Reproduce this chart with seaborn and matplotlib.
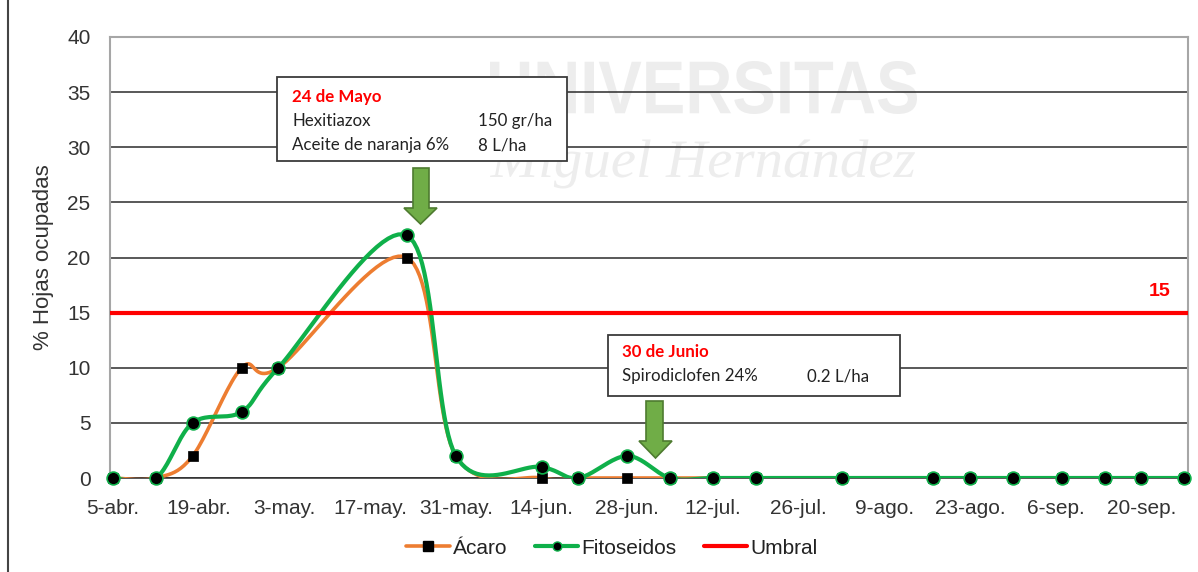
import numpy as np
import pandas as pd
import matplotlib.pyplot as plt
import seaborn as sns
from matplotlib.lines import Line2D
from matplotlib.patches import Rectangle, Polygon, PathPatch
from matplotlib.textpath import TextPath
from matplotlib.font_manager import FontProperties
from matplotlib.transforms import Affine2D

# --- Datos ---
fechas = ['2019-04-05', '2019-04-12', '2019-04-18', '2019-04-26', '2019-05-02',
          '2019-05-23', '2019-05-31', '2019-06-14', '2019-06-20', '2019-06-28',
          '2019-07-05', '2019-07-12', '2019-07-19', '2019-08-02', '2019-08-17',
          '2019-08-23', '2019-08-30', '2019-09-07', '2019-09-14', '2019-09-20',
          '2019-09-27']
acaro = [0, 0, 2, 10, 10, 20, 2, 0, 0, 0, 0, 0, 0, 0, 0, 0, 0, 0, 0, 0, 0]
fitoseidos = [0, 0, 5, 6, 10, 22, 2, 1, 0, 2, 0, 0, 0, 0, 0, 0, 0, 0, 0, 0, 0]
umbral = 15

ticks_fechas = ['2019-04-05', '2019-04-19', '2019-05-03', '2019-05-17', '2019-05-31',
                '2019-06-14', '2019-06-28', '2019-07-12', '2019-07-26', '2019-08-09',
                '2019-08-23', '2019-09-06', '2019-09-20']
ticks_etiquetas = ['5-abr.', '19-abr.', '3-may.', '17-may.', '31-may.', '14-jun.',
                   '28-jun.', '12-jul.', '26-jul.', '9-ago.', '23-ago.', '6-sep.',
                   '20-sep.']

NARANJA = '#ED7D31'
VERDE = '#0FB04A'
ROJO = '#FF0000'

sns.set_theme(style="white")
plt.rcParams['font.family'] = ['Liberation Sans', 'DejaVu Sans']

W, H = 1198, 572
def fx(x):
    return x / W
def fy(y):
    return 1 - y / H

fig = plt.figure(figsize=(W / 100, H / 100), dpi=100)
ax = fig.add_axes([fx(110), fy(478), (1188 - 110) / W, (478 - 37) / H])
ax.patch.set_alpha(0)

origen = pd.Timestamp(fechas[0])
dias = (pd.to_datetime(fechas) - origen).days.values.astype(float)
dias_ticks = (pd.to_datetime(ticks_fechas) - origen).days.values.astype(float)


# curva suavizada tipo Excel (Bezier / Catmull-Rom en espacio de pixeles)
def suavizar(xs, ys, sx=6.12, sy=11.03, n=24):
    P = np.column_stack([np.asarray(xs) * sx, np.asarray(ys, dtype=float) * sy])
    tramos = []
    t = np.linspace(0, 1, n)[:, None]
    for i in range(len(P) - 1):
        p0 = P[max(i - 1, 0)]
        p1 = P[i]
        p2 = P[i + 1]
        p3 = P[min(i + 2, len(P) - 1)]
        c1 = p1 + (p2 - p0) / 6
        c2 = p2 - (p3 - p1) / 6
        seg = (1 - t) ** 3 * p1 + 3 * (1 - t) ** 2 * t * c1 + 3 * (1 - t) * t ** 2 * c2 + t ** 3 * p2
        tramos.append(seg if i == 0 else seg[1:])
    out = np.vstack(tramos)
    return out[:, 0] / sx, out[:, 1] / sy


xa, ya = suavizar(dias, acaro)
xf, yf = suavizar(dias, fitoseidos)

sns.lineplot(x=xa, y=ya, sort=False, estimator=None, color=NARANJA, lw=2.6,
             ax=ax, zorder=3)
sns.scatterplot(x=dias, y=acaro, marker='s', s=48, color='black', edgecolor='black',
                linewidth=0.5, ax=ax, zorder=4, clip_on=False)
sns.lineplot(x=xf, y=yf, sort=False, estimator=None, color=VERDE, lw=3,
             ax=ax, zorder=5)
sns.scatterplot(x=dias, y=fitoseidos, marker='o', s=85, color='black', edgecolor=VERDE,
                linewidth=1.2, ax=ax, zorder=6, clip_on=False)
ax.axhline(umbral, color=ROJO, lw=3, zorder=7)

# --- Ejes ---
ax.set_xlim(-0.5, 175.6)
ax.set_ylim(0, 40)
ax.set_yticks(range(0, 41, 5))
ax.set_xticks(dias_ticks)
ax.set_xticklabels(ticks_etiquetas)
ax.tick_params(axis='both', length=0, labelsize=15, labelcolor='#333333')
ax.tick_params(axis='y', pad=14)
ax.tick_params(axis='x', pad=15)
ax.yaxis.grid(True, color='#2b2b2b', lw=1.1)
ax.set_axisbelow(True)
ax.set_xlabel('')
ax.set_ylabel('% Hojas ocupadas', fontsize=16, color='#333333')
ax.yaxis.set_label_coords((54 - 110) / 1078, 0.5)
for lado in ['left', 'top', 'right']:
    ax.spines[lado].set_color('#a6a6a6')
    ax.spines[lado].set_linewidth(1.5)
ax.spines['bottom'].set_color('#2b2b2b')
ax.spines['bottom'].set_linewidth(1.1)

fig.text(fx(1160), fy(291), str(umbral), color=ROJO, fontsize=14, fontweight='bold',
         ha='center', va='center')

# --- Marca de agua ---
gris_agua = '#ededed'
tp = TextPath((0, 0), 'UNIVERSITAS', size=1,
              prop=FontProperties(family='Liberation Sans', weight='bold'))
bb = tp.get_extents()
tr = Affine2D().translate(-bb.x0, -bb.y0).scale(427 / bb.width, 53 / bb.height).translate(490, H - 114)
fig.add_artist(PathPatch(tp, transform=tr, fc=gris_agua, ec='none', zorder=-1))
tp2 = TextPath((0, 0), 'Miguel Hernández', size=1,
               prop=FontProperties(family='Liberation Serif', style='italic'))
bb2 = tp2.get_extents()
esc = 425 / bb2.width
tr2 = Affine2D().translate(-bb2.x0, 0).scale(esc, esc * 0.95).translate(490, H - 177)
fig.add_artist(PathPatch(tp2, transform=tr2, fc=gris_agua, ec='none', zorder=-1))

# --- Cuadros de tratamiento ---
def cuadro(x0, y0, x1, y1):
    fig.add_artist(Rectangle((fx(x0), fy(y1)), (x1 - x0) / W, (y1 - y0) / H,
                             transform=fig.transFigure, fc='white', ec='#3a3a3a',
                             lw=1.3, zorder=10))

def flecha(x0, x1, y_top, y_head, hx0, hx1, y_tip):
    pts = [(x0, y_top), (x1, y_top), (x1, y_head), (hx1, y_head),
           ((hx0 + hx1) / 2, y_tip), (hx0, y_head), (x0, y_head)]
    fig.add_artist(Polygon([(fx(a), fy(b)) for a, b in pts], closed=True,
                           transform=fig.transFigure, fc='#70AD47', ec='#4E7B30',
                           lw=1.2, zorder=10))

fuente_cuadro = dict(family=['Lato', 'DejaVu Sans'], fontsize=12.2, color='#222222',
                     va='baseline', zorder=11)

cuadro(277, 77, 567, 161)
fig.text(fx(292), fy(102), '24 de Mayo', **{**fuente_cuadro, 'color': ROJO}, fontweight='bold')
fig.text(fx(292), fy(126), 'Hexitiazox', **fuente_cuadro)
fig.text(fx(478), fy(126), '150 gr/ha', **fuente_cuadro)
fig.text(fx(292), fy(150), 'Aceite de naranja 6%', **fuente_cuadro)
fig.text(fx(478), fy(150), '8 L/ha', **fuente_cuadro)
flecha(413, 429, 168, 208, 404, 437, 224)

cuadro(608, 335, 900, 396)
fig.text(fx(622), fy(357), '30 de Junio', **{**fuente_cuadro, 'color': ROJO}, fontweight='bold')
fig.text(fx(622), fy(381), 'Spirodiclofen 24%', **fuente_cuadro)
fig.text(fx(807), fy(381), '0.2 L/ha', **fuente_cuadro)
flecha(646, 663, 401, 441, 639, 672, 458)

# --- Borde izquierdo ---
fig.add_artist(Line2D([fx(8), fx(8)], [0, 1], color='#444444', lw=1.5,
                      transform=fig.transFigure))

# --- Leyenda ---
manejadores = [
    Line2D([], [], color=NARANJA, lw=2.6, marker='s', markersize=7,
           markerfacecolor='black', markeredgecolor='black'),
    Line2D([], [], color=VERDE, lw=3, marker='o', markersize=6.5,
           markerfacecolor='black', markeredgecolor=VERDE),
    Line2D([], [], color=ROJO, lw=3),
]
fig.legend(manejadores, ['Ácaro', 'Fitoseidos', 'Umbral'], loc='center',
           bbox_to_anchor=(fx(612), fy(548)), ncol=3, frameon=False, fontsize=15,
           handlelength=2.1, handletextpad=0.15, columnspacing=1.3,
           labelcolor='#222222')

fig.savefig('out.png', dpi=100)
